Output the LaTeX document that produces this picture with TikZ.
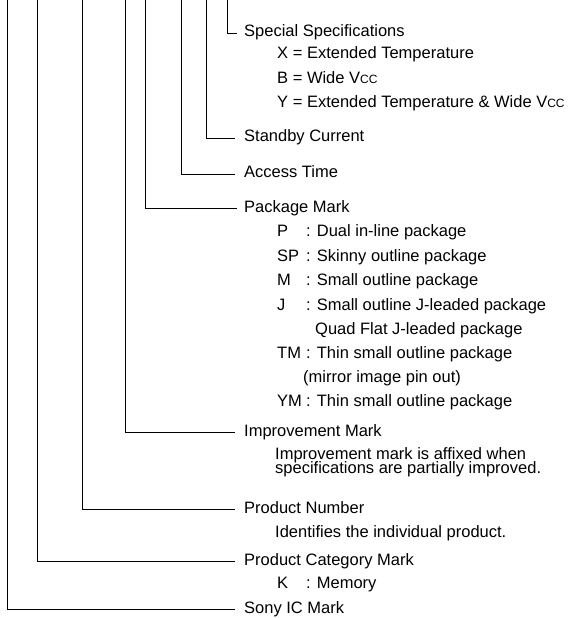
\documentclass[tikz,border=0pt]{standalone}
\usepackage{fontspec}
\setmainfont{Liberation Sans}
\newcommand{\Vcc}{V\raisebox{-0.8pt}{\fontsize{12}{12}\selectfont CC}}
\newcommand{\tightlines}{\lineskiplimit=-100pt\relax}

\begin{document}
\begin{tikzpicture}[x=1pt, y=-1pt, every node/.style={font=\fontsize{16.5}{12}\selectfont, inner sep=0pt, anchor=base west}, lead/.style={draw, line width=0.9pt}]
        \useasboundingbox (0,0) rectangle (568,618);

        % Field headings
        \node at (244,36.5) (spec) {Special Specifications};
        \node at (244,141.5) (standby) {Standby Current};
        \node at (244,177.5) (access) {Access Time};
        \node at (244,212.5) (package) {Package Mark};
        \node at (244,436) (improve) {Improvement Mark};
        \node at (244,513) (prodnum) {Product Number};
        \node at (244,565) (category) {Product Category Mark};
        \node at (244,613) (sony) {Sony IC Mark};

        % Special specification codes
        \node at (277,58.5) (specx) {X = Extended Temperature};
        \node at (277,83) (specb) {B = Wide \Vcc};
        \node at (277,107) (specy) {Y = Extended Temperature \& Wide \Vcc};

        % Package codes
        \node at (277,236.5) (pkgp) {P};
        \node at (306,236.5) (pkgptxt) {: Dual in-line package};
        \node at (277,261) (pkgsp) {SP};
        \node at (306,261) (pkgsptxt) {: Skinny outline package};
        \node at (277,285.5) (pkgm) {M};
        \node at (306,285.5) (pkgmtxt) {: Small outline package};
        \node at (277,310) (pkgj) {J};
        \node at (306,310) (pkgjtxt) {: Small outline J-leaded package};
        \node at (315,334.5) (pkgjquad) {Quad Flat J-leaded package};
        \node at (277,358.5) (pkgtm) {TM};
        \node at (306,358.5) (pkgtmtxt) {: Thin small outline package};
        \node at (303,382) (pkgtmmirror) {(mirror image pin out)};
        \node at (277,406.5) (pkgym) {YM};
        \node at (306,406.5) (pkgymtxt) {: Thin small outline package};

        % Remaining notes
        \node [anchor=north west, align=left, font={\fontsize{16.5}{14}\selectfont\tightlines}] at (275,447.5) (improvenote) {Improvement mark is affixed when\\specifications are partially improved.};
        \node at (275,537.5) (prodnote) {Identifies the individual product.};
        \node at (277,588) (catk) {K};
        \node at (306,588) (catktxt) {: Memory};

        % Lead lines from the part number
        \coordinate (tspec) at (227.7,0);
        \coordinate (tstandby) at (206,0);
        \coordinate (taccess) at (181.7,0);
        \coordinate (tpackage) at (145,0);
        \coordinate (timprove) at (125,0);
        \coordinate (tprodnum) at (82.7,0);
        \coordinate (tcategory) at (37.3,0);
        \coordinate (tsony) at (7.3,0);

        \path [lead] (tspec) |- ([shift={(-7pt,3.5pt)}]spec.base west);
        \path [lead] (tstandby) |- ([shift={(-9pt,3.5pt)}]standby.base west);
        \path [lead] (taccess) |- ([shift={(-9pt,3.5pt)}]access.base west);
        \path [lead] (tpackage) |- ([shift={(-7pt,4pt)}]package.base west);
        \path [lead] (timprove) |- ([shift={(-9pt,3.5pt)}]improve.base west);
        \path [lead] (tprodnum) |- ([shift={(-9pt,3.5pt)}]prodnum.base west);
        \path [lead] (tcategory) |- ([shift={(-9pt,3.5pt)}]category.base west);
        \path [lead] (tsony) |- ([shift={(-9pt,3.5pt)}]sony.base west);
    \end{tikzpicture}
\end{document}
